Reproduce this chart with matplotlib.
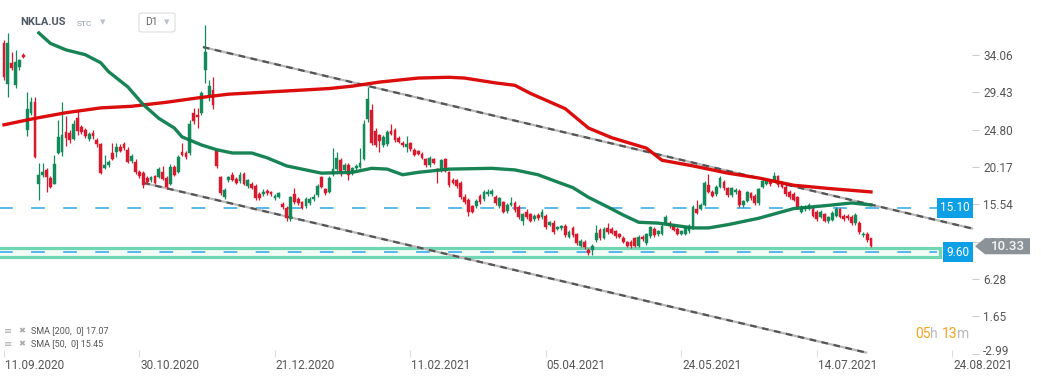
import matplotlib
matplotlib.use("Agg")
import matplotlib.pyplot as plt
import matplotlib.transforms as mtransforms
from matplotlib.patches import Rectangle, Polygon, FancyBboxPatch
import numpy as np

plt.rcParams["font.family"] = ["Roboto", "DejaVu Sans"]

# daily candles NKLA.US, 11.09.2020 .. early 08.2021
opens = [35.5, 30.5, 33.1, 30.3, 32.6, 34.1, 24.8, 26.9, 28.2, 18.0,
         19.2, 19.8, 18.8, 18.1, 21.9, 22.0, 24.5, 24.4, 23.6, 26.2,
         25.1, 24.7, 23.6, 24.4, 23.5, 23.0, 20.0, 20.4, 21.9, 22.0,
         22.6, 23.0, 22.3, 20.9, 20.8, 19.5, 19.4, 18.8, 18.5, 19.0,
         18.9, 19.5, 18.8, 18.0, 20.2, 19.6, 22.0, 21.9, 21.9, 26.9,
         26.6, 26.9, 32.2, 29.0, 29.7, 22.1, 18.9, 16.4, 18.5, 19.2,
         18.7, 18.4, 19.3, 17.8, 18.1, 17.8, 16.8, 16.8, 17.2, 17.1,
         16.3, 16.5, 15.6, 15.1, 13.7, 16.8, 16.2, 15.8, 15.3, 15.7,
         16.2, 16.7, 18.9, 17.4, 17.1, 19.3, 19.9, 21.0, 19.8, 20.4,
         19.4, 20.0, 20.2, 21.2, 26.1, 27.2, 24.6, 24.1, 22.9, 23.0,
         24.6, 24.8, 23.8, 23.1, 22.6, 23.1, 22.3, 22.1, 21.8, 21.1,
         20.4, 21.1, 19.9, 19.8, 21.1, 19.5, 18.5, 18.5, 18.2, 16.4,
         16.1, 15.3, 15.3, 16.6, 16.2, 16.8, 16.8, 16.5, 15.3, 15.8,
         14.7, 15.5, 15.7, 15.2, 13.5, 14.6, 14.3, 13.7, 14.2, 13.9,
         14.1, 13.0, 13.2, 12.5, 12.6, 12.9, 11.5, 12.6, 11.8, 10.4,
         10.9, 9.9, 9.8, 11.1, 12.4, 11.4, 12.6, 12.5, 12.2, 11.8,
         11.4, 10.8, 10.9, 11.3, 10.4, 11.5, 10.7, 11.6, 12.5, 11.8,
         11.9, 13.2, 13.2, 12.9, 12.5, 11.9, 11.9, 12.2, 12.7, 15.0,
         15.0, 15.5, 17.9, 17.1, 16.8, 17.7, 18.3, 17.5, 16.7, 17.0,
         17.2, 15.4, 16.0, 16.9, 16.6, 15.7, 17.7, 18.1, 18.4, 18.6,
         19.0, 18.2, 17.7, 17.1, 16.8, 16.4, 14.6, 14.9, 15.0, 15.0,
         14.6, 14.0, 14.3, 13.4, 13.6, 14.1, 14.9, 14.1, 14.1, 14.0,
         13.2, 13.2, 11.7, 11.9, 11.3]
highs = [35.9, 36.8, 34.4, 34.7, 33.6, 34.3, 29.5, 28.8, 28.8, 20.7,
         20.7, 20.0, 19.0, 21.7, 26.0, 28.2, 26.5, 24.7, 26.0, 27.2,
         25.4, 25.0, 24.5, 24.7, 23.8, 23.2, 21.7, 21.0, 23.1, 23.1,
         23.0, 23.3, 22.6, 21.8, 21.1, 19.8, 19.7, 19.0, 19.0, 19.2,
         20.2, 20.3, 19.0, 20.5, 20.4, 21.6, 23.1, 22.2, 26.0, 27.5,
         27.5, 29.6, 37.8, 31.0, 31.3, 22.4, 19.1, 17.5, 19.1, 19.6,
         18.9, 19.6, 19.5, 18.7, 18.3, 18.0, 17.0, 17.4, 17.4, 17.2,
         16.8, 17.1, 15.8, 15.3, 16.6, 17.6, 16.5, 16.0, 16.4, 16.4,
         16.8, 18.0, 19.1, 17.6, 19.0, 22.5, 22.0, 21.3, 20.7, 20.6,
         20.2, 20.5, 22.5, 26.0, 30.1, 28.0, 25.0, 24.3, 24.1, 24.8,
         25.5, 25.0, 24.0, 23.4, 24.0, 23.3, 22.5, 22.3, 22.0, 21.3,
         21.5, 21.3, 20.1, 21.2, 21.3, 19.7, 18.8, 18.7, 18.4, 16.8,
         16.3, 15.5, 16.2, 16.8, 17.3, 17.4, 17.4, 16.7, 16.5, 16.0,
         15.7, 16.5, 15.9, 15.4, 14.5, 15.0, 14.5, 14.3, 14.4, 14.9,
         14.3, 13.5, 13.6, 12.9, 13.0, 13.1, 12.3, 12.8, 12.0, 11.2,
         11.1, 10.1, 10.6, 13.0, 12.6, 12.7, 13.2, 12.7, 12.4, 12.0,
         11.6, 11.0, 11.1, 11.5, 11.7, 11.7, 12.0, 12.9, 12.7, 12.4,
         13.1, 14.2, 13.4, 13.1, 12.7, 12.4, 12.9, 13.1, 15.4, 16.1,
         15.7, 18.4, 19.3, 17.3, 17.9, 19.0, 18.5, 17.7, 17.7, 17.5,
         17.4, 16.1, 17.2, 17.1, 16.8, 17.6, 18.6, 18.6, 18.6, 19.6,
         19.2, 18.4, 17.9, 17.3, 17.0, 16.6, 15.4, 15.5, 15.7, 15.2,
         14.8, 14.8, 14.5, 14.1, 14.7, 15.2, 15.1, 14.3, 14.3, 14.2,
         14.4, 13.4, 12.1, 12.1, 11.4]
lows = [30.9, 28.8, 32.2, 30.0, 32.2, 33.7, 24.0, 26.6, 21.3, 16.1,
        18.9, 17.0, 17.5, 18.0, 21.8, 21.5, 22.8, 23.2, 23.5, 24.1,
        24.2, 23.7, 23.4, 23.6, 22.6, 19.3, 19.9, 20.2, 21.0, 21.4,
        22.0, 22.3, 20.6, 20.7, 19.3, 18.8, 17.6, 18.1, 18.3, 18.0,
        18.8, 18.5, 17.4, 17.9, 19.0, 19.4, 21.5, 21.2, 21.7, 25.5,
        25.0, 26.6, 30.6, 28.4, 27.3, 20.1, 16.7, 16.2, 18.3, 18.4,
        18.0, 18.2, 17.9, 17.6, 17.4, 16.1, 16.1, 16.6, 16.7, 16.6,
        16.1, 16.3, 15.0, 13.4, 13.5, 15.6, 15.5, 14.9, 15.1, 15.5,
        16.0, 16.5, 17.5, 16.7, 16.9, 19.1, 19.7, 19.0, 19.6, 18.6,
        19.2, 19.8, 20.0, 21.0, 25.8, 22.9, 22.7, 22.0, 22.7, 22.8,
        24.1, 23.3, 23.1, 22.6, 22.0, 22.2, 21.5, 21.6, 21.1, 20.2,
        20.2, 20.5, 18.2, 19.6, 19.5, 17.7, 18.0, 17.6, 16.2, 15.6,
        14.1, 14.4, 15.1, 15.6, 16.0, 16.6, 16.6, 15.5, 15.1, 14.4,
        14.5, 15.3, 14.6, 13.7, 13.0, 13.7, 13.3, 13.5, 13.6, 13.7,
        12.5, 12.8, 11.9, 12.3, 12.4, 11.5, 11.3, 11.5, 10.5, 10.2,
        10.0, 9.3, 9.3, 10.9, 11.1, 11.2, 11.9, 11.8, 11.4, 11.3,
        10.7, 10.2, 10.1, 10.2, 10.2, 11.0, 10.5, 11.4, 11.5, 11.6,
        11.7, 13.0, 12.6, 12.2, 11.7, 11.7, 11.7, 12.0, 12.5, 14.3,
        14.8, 15.3, 16.9, 16.4, 16.6, 17.5, 17.3, 16.5, 16.5, 16.8,
        15.2, 15.2, 15.8, 16.1, 15.5, 15.5, 17.5, 17.9, 17.8, 18.4,
        17.7, 17.5, 16.6, 16.2, 15.9, 15.0, 14.4, 14.7, 14.8, 13.9,
        13.5, 13.8, 13.3, 13.2, 13.4, 13.9, 13.8, 13.5, 13.6, 13.0,
        13.0, 11.9, 11.5, 10.9, 10.2]
closes = [31.3, 35.5, 32.5, 33.2, 33.4, 33.8, 27.4, 28.2, 21.4, 19.2,
          19.5, 18.9, 17.7, 20.5, 23.9, 24.1, 23.8, 23.5, 25.5, 24.6,
          24.5, 24.0, 24.2, 24.0, 23.0, 19.4, 20.4, 20.8, 21.1, 22.6,
          22.2, 22.5, 20.8, 21.5, 19.5, 19.0, 17.9, 18.3, 18.9, 18.2,
          19.9, 18.7, 17.7, 20.2, 19.2, 21.4, 21.6, 21.4, 25.5, 25.9,
          26.4, 29.3, 34.4, 30.2, 27.9, 20.3, 16.9, 17.3, 18.9, 18.6,
          18.2, 19.2, 18.1, 18.5, 17.6, 16.3, 16.3, 17.1, 16.9, 16.8,
          16.6, 16.9, 15.2, 13.8, 16.4, 15.8, 15.7, 15.1, 16.2, 16.2,
          16.5, 17.8, 17.7, 16.9, 18.8, 19.9, 21.3, 19.6, 20.4, 19.2,
          20.0, 20.3, 20.7, 25.5, 28.6, 23.1, 22.9, 23.4, 23.9, 24.5,
          24.3, 23.5, 23.3, 22.9, 23.0, 22.4, 21.7, 21.8, 21.3, 20.4,
          21.3, 20.7, 19.7, 21.0, 19.7, 17.9, 18.2, 17.8, 16.4, 15.8,
          14.6, 14.6, 16.0, 15.8, 17.1, 17.0, 17.2, 15.7, 16.3, 14.6,
          15.5, 15.7, 14.8, 13.9, 14.3, 13.9, 13.5, 14.1, 13.8, 14.6,
          12.7, 13.3, 12.1, 12.7, 12.8, 11.7, 12.1, 11.7, 10.7, 11.0,
          10.2, 9.5, 10.3, 12.0, 11.3, 12.5, 12.1, 12.0, 11.6, 11.5,
          10.9, 10.4, 10.3, 10.4, 11.5, 11.2, 11.8, 12.7, 11.7, 12.2,
          12.9, 14.0, 12.8, 12.4, 11.9, 12.2, 12.7, 12.9, 15.2, 14.5,
          15.5, 18.2, 17.1, 16.6, 17.7, 18.8, 17.5, 16.7, 17.5, 17.3,
          15.4, 15.9, 17.0, 16.3, 15.7, 17.4, 18.4, 18.4, 18.0, 19.0,
          17.9, 17.7, 16.8, 16.4, 16.1, 15.2, 15.2, 15.2, 15.5, 14.1,
          13.7, 14.6, 13.5, 13.9, 14.5, 15.0, 14.0, 13.7, 13.8, 13.2,
          14.2, 12.1, 11.9, 11.1, 10.33]

# moving averages as drawn (bar index, value)
sma200_idx = [0, 8, 16, 25, 33, 42, 51, 58, 73, 84, 90, 97, 107, 115, 119,
              127, 132, 136, 145, 151, 157, 166, 170, 178, 187, 195, 204, 213, 224]
sma200_val = [25.4, 26.2, 26.9, 27.5, 27.7, 28.2, 28.8, 29.2, 29.6, 29.9, 30.2,
              30.7, 31.2, 31.3, 31.2, 30.6, 30.3, 29.3, 27.4, 25.0, 23.8, 22.5,
              21.0, 20.3, 19.4, 18.8, 17.9, 17.5, 17.07]
sma50_idx = [9, 12, 16, 21, 25, 27, 32, 36, 40, 44, 46, 51, 55, 59, 64, 68, 73,
             76, 82, 90, 95, 99, 103, 107, 115, 126, 132, 138, 143, 147, 151,
             156, 160, 164, 169, 172, 178, 182, 187, 195, 204, 213, 219, 224]
sma50_val = [36.8, 35.5, 34.7, 34.1, 33.1, 32.0, 30.1, 27.9, 26.2, 25.0, 23.9,
             22.9, 22.3, 21.9, 21.9, 21.3, 20.3, 20.0, 19.4, 19.5, 20.0, 19.9,
             19.2, 19.5, 19.9, 20.0, 19.8, 19.2, 18.3, 17.6, 16.4, 15.2, 14.2,
             13.3, 13.2, 13.0, 12.6, 12.6, 13.0, 13.8, 15.0, 15.4, 15.7, 15.45]

# channel lines (bar index, price)
upper_idx = [51.4, 250.4]
upper_val = [35.05, 12.5]
lower_idx = [36, 223]
lower_val = [18.2, -2.9]

levels = [15.10, 9.60]
zone = [8.96, 10.07]
last_price = 10.33

yticks = [34.06, 29.43, 24.80, 20.17, 15.54, 10.91, 6.28, 1.65, -2.99]
xtick_pos = [0, 35, 70, 105, 140, 175, 210, 245]
xtick_labels = ["11.09.2020", "30.10.2020", "21.12.2020", "11.02.2021",
                "05.04.2021", "24.05.2021", "14.07.2021", "24.08.2021"]

W, H = 1041, 379
fig = plt.figure(figsize=(W / 100, H / 100), dpi=100)
ax = fig.add_axes([0, 22 / H, 972 / W, 357 / H])
ax.set_xlim(-1.034, 250.1)
ax.set_ylim(-3.42, 40.89)
for s in ax.spines.values():
    s.set_visible(False)

GREEN = "#138a5a"
RED = "#d91a2e"

# support zone
ax.add_patch(Rectangle((-2, zone[0]), 243.9, zone[1] - zone[0],
                       facecolor="#f3fbf7", edgecolor="#6fd6b2", lw=2.3, zorder=1))

# horizontal levels
for lv in levels:
    ax.plot([-2, 241], [lv, lv], color="#2ba6ea", lw=1.1, dashes=(9, 12), zorder=1.5)

# channel
for xs, ys in [(upper_idx, upper_val), (lower_idx, lower_val)]:
    ax.plot(xs, ys, color="#b8b8b8", lw=1.6, zorder=2, solid_capstyle="butt", clip_on=False)
    ax.plot(xs, ys, color="#555555", lw=1.6, dashes=(3, 2.5), zorder=2.1, clip_on=False)

# candles
o = np.array(opens)
c = np.array(closes)
hi = np.array(highs)
lo = np.array(lows)
idx = np.arange(len(o))
col = np.where(c >= o, GREEN, RED)
ax.vlines(idx, lo, hi, colors=col, lw=0.9, zorder=3)
body = np.maximum(np.abs(c - o), 0.12)
ax.bar(idx, body, bottom=np.minimum(o, c), width=0.72, color=col,
       edgecolor=col, linewidth=0.3, zorder=3.5)

# moving averages
ax.plot(sma200_idx, sma200_val, color="#d90000", lw=2.4, zorder=4, alpha=0.95)
ax.plot(sma50_idx, sma50_val, color="#0b7d4d", lw=2.4, zorder=4, alpha=0.95)

# axes ticks
ax.yaxis.tick_right()
ax.set_yticks(yticks)
ax.set_yticklabels([f"{v:.2f}" for v in yticks])
ax.tick_params(axis="y", length=5, color="#cccccc", labelcolor="#555555",
               labelsize=8.5, pad=3, width=0.8)
# lowest price label sits a little higher, as in the platform
up = mtransforms.ScaledTranslation(0, 4 / 100, fig.dpi_scale_trans)
low_lab = ax.get_yticklabels()[-1]
low_lab.set_transform(low_lab.get_transform() + up)

ax.set_xticks(xtick_pos)
ax.set_xticklabels(xtick_labels)
ax.tick_params(axis="x", direction="in", length=5, color="#dddddd",
               labelcolor="#555555", labelsize=8.5, pad=1.5, width=0.8)
shift = mtransforms.ScaledTranslation(1 / 100, 0, fig.dpi_scale_trans)
for lab in ax.get_xticklabels():
    lab.set_horizontalalignment("left")
    lab.set_transform(lab.get_transform() + shift)

# price labels at right
bt = mtransforms.blended_transform_factory(fig.transFigure, ax.transData)
ax.text(955 / W, levels[0], f"{levels[0]:.2f}", transform=bt, ha="center", va="center",
        color="white", fontsize=8.5, zorder=6, clip_on=False,
        bbox=dict(boxstyle="square,pad=0.3", fc="#0ea0e6", ec="none"))
ax.text(958 / W, levels[1], f"{levels[1]:.2f}", transform=bt, ha="center", va="center",
        color="white", fontsize=8.5, zorder=6, clip_on=False,
        bbox=dict(boxstyle="square,pad=0.3", fc="#0ea0e6", ec="none"))
tag = Polygon([(975 / W, last_price), (985 / W, last_price + 1.0),
               (1030 / W, last_price + 1.0), (1030 / W, last_price - 1.0),
               (985 / W, last_price - 1.0)], closed=True, transform=bt,
              fc="#8b9399", ec="none", zorder=6, clip_on=False)
ax.add_patch(tag)
ax.text(1008 / W, last_price, f"{last_price:.2f}", transform=bt, ha="center", va="center",
        color="#f4f4f4", fontsize=9.5, fontweight="medium", zorder=7, clip_on=False)


# header
def fx(px):
    return px / W


def fy(py):
    return 1 - py / H


fig.text(fx(20), fy(22), "NKLA.US", fontsize=8, fontweight="bold", color="#4d5862",
         va="center")
fig.text(fx(77), fy(24), "STC", fontsize=6, color="#8d9bab", va="center")
fig.text(fx(100), fy(22), "▼", fontsize=5, color="#b8c0c8", va="center",
         family="DejaVu Sans")
fig.add_artist(FancyBboxPatch((fx(139), fy(32)), fx(36), 19 / H,
                              boxstyle="round,pad=0,rounding_size=0.004",
                              transform=fig.transFigure, fc="white", ec="#dddddd",
                              lw=0.8))
fig.text(fx(145), fy(22), "D1", fontsize=7.5, color="#666666", va="center")
fig.text(fx(164), fy(22.5), "▼", fontsize=5, color="#b8c0c8", va="center",
         family="DejaVu Sans")

# indicator legend
for py, txt in [(331, "SMA [200,  0] 17.07"), (344, "SMA [50,  0] 15.45")]:
    fig.text(fx(4), fy(py), "≡", fontsize=7, color="#aaaaaa", va="center",
             family="DejaVu Sans")
    fig.text(fx(18), fy(py), "✖", fontsize=6, color="#aaaaaa", va="center",
             family="DejaVu Sans")
    fig.text(fx(31), fy(py), txt, fontsize=6.5, color="#555555", va="center")

# countdown
parts = [("05", "#f7a21b"), ("h ", "#bbbbbb"), ("13", "#f7a21b"), ("m", "#bbbbbb")]
x0 = 915
for t, cc in parts:
    tx = fig.text(fx(x0), fy(334), t, fontsize=10, color=cc, va="center")
    fig.canvas.draw()
    x0 += tx.get_window_extent().width

fig.savefig("out.png", dpi=100)
